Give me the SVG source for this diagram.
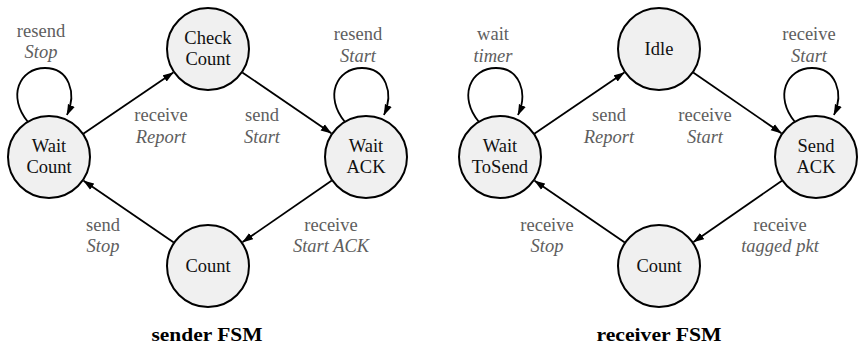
<svg xmlns="http://www.w3.org/2000/svg" width="858" height="347" viewBox="0 0 858 347">
<defs>
<marker id="arr" markerUnits="userSpaceOnUse" viewBox="0 0 11 8" markerWidth="11" markerHeight="8" refX="10.5" refY="4" orient="auto">
<path d="M0,0.3 L11,4 L0,7.7 z" fill="#000"/>
</marker>
<path id="loop" d="M-21,-35 C-42,-60 -30,-89 -4,-89 C20,-89 28,-64 18,-42"/>
</defs>
<style>
.node circle{fill:#f0f0f0;stroke:#000;stroke-width:2}
.node text{font-family:"Liberation Serif","DejaVu Serif",serif;font-size:18.5px;fill:#111;text-anchor:middle}
.edges path,.edges use{fill:none;stroke:#000;stroke-width:1.8;marker-end:url(#arr)}
.lbl{font-family:"Liberation Serif","DejaVu Serif",serif;font-size:18.5px;fill:#5e5e5e;text-anchor:middle}
.lbl .it{font-style:italic}
.title{font-family:"Liberation Serif","DejaVu Serif",serif;font-size:19px;font-weight:bold;fill:#000;text-anchor:middle}
</style>

<g id="sender-nodes">
<g id="s-waitcount" class="node"><circle cx="49" cy="157" r="41"/><text x="49" y="152">Wait</text><text x="49" y="173">Count</text></g>
<g id="s-checkcount" class="node"><circle cx="208" cy="49" r="41"/><text x="208" y="44">Check</text><text x="208" y="65">Count</text></g>
<g id="s-waitack" class="node"><circle cx="366" cy="157" r="41"/><text x="366" y="152">Wait</text><text x="366" y="173">ACK</text></g>
<g id="s-count" class="node"><circle cx="208" cy="266" r="41"/><text x="208" y="272">Count</text></g>
</g>

<g id="receiver-nodes">
<g id="r-waittosend" class="node"><circle cx="500" cy="157" r="41"/><text x="500" y="152">Wait</text><text x="500" y="173">ToSend</text></g>
<g id="r-idle" class="node"><circle cx="659" cy="49" r="41"/><text x="659" y="55">Idle</text></g>
<g id="r-sendack" class="node"><circle cx="816" cy="157" r="41"/><text x="816" y="152">Send</text><text x="816" y="173">ACK</text></g>
<g id="r-count" class="node"><circle cx="659" cy="266" r="41"/><text x="659" y="272">Count</text></g>
</g>

<g id="connectors" class="edges">
<use href="#loop" transform="translate(49,157)"/>
<use href="#loop" transform="translate(366,157)"/>
<path d="M83.3,133.7 L173.3,72.6"/>
<path d="M242.3,72.4 L331.3,133.3"/>
<path d="M331.8,180.6 L242.6,242.1"/>
<path d="M173.8,242.5 L83.6,180.7"/>
<use href="#loop" transform="translate(500,157)"/>
<use href="#loop" transform="translate(816,157)"/>
<path d="M534.3,133.7 L624.3,72.6"/>
<path d="M693.2,72.5 L781.4,133.2"/>
<path d="M781.9,180.7 L693.5,242"/>
<path d="M624.8,242.5 L534.6,180.7"/>
</g>

<g id="labels">
<text class="lbl" x="41" y="37">resend<tspan class="it" x="41" y="58">Stop</tspan></text>
<text class="lbl" x="358" y="40">resend<tspan class="it" x="358" y="62">Start</tspan></text>
<text class="lbl" x="161" y="121">receive<tspan class="it" x="161" y="143">Report</tspan></text>
<text class="lbl" x="262" y="121">send<tspan class="it" x="262" y="143">Start</tspan></text>
<text class="lbl" x="103" y="231">send<tspan class="it" x="103" y="252">Stop</tspan></text>
<text class="lbl" x="331" y="231">receive<tspan class="it" x="331" y="252">Start ACK</tspan></text>

<text class="lbl" x="493" y="40">wait<tspan class="it" x="493" y="62">timer</tspan></text>
<text class="lbl" x="809" y="40">receive<tspan class="it" x="809" y="62">Start</tspan></text>
<text class="lbl" x="609" y="121">send<tspan class="it" x="609" y="143">Report</tspan></text>
<text class="lbl" x="705" y="121">receive<tspan class="it" x="705" y="143">Start</tspan></text>
<text class="lbl" x="547" y="231">receive<tspan class="it" x="547" y="252">Stop</tspan></text>
<text class="lbl" x="780" y="231">receive<tspan class="it" x="780" y="252">tagged pkt</tspan></text>
</g>

<text class="title" x="207" y="341" textLength="111" lengthAdjust="spacingAndGlyphs">sender FSM</text>
<text class="title" x="659" y="341" textLength="125" lengthAdjust="spacingAndGlyphs">receiver FSM</text>
</svg>
